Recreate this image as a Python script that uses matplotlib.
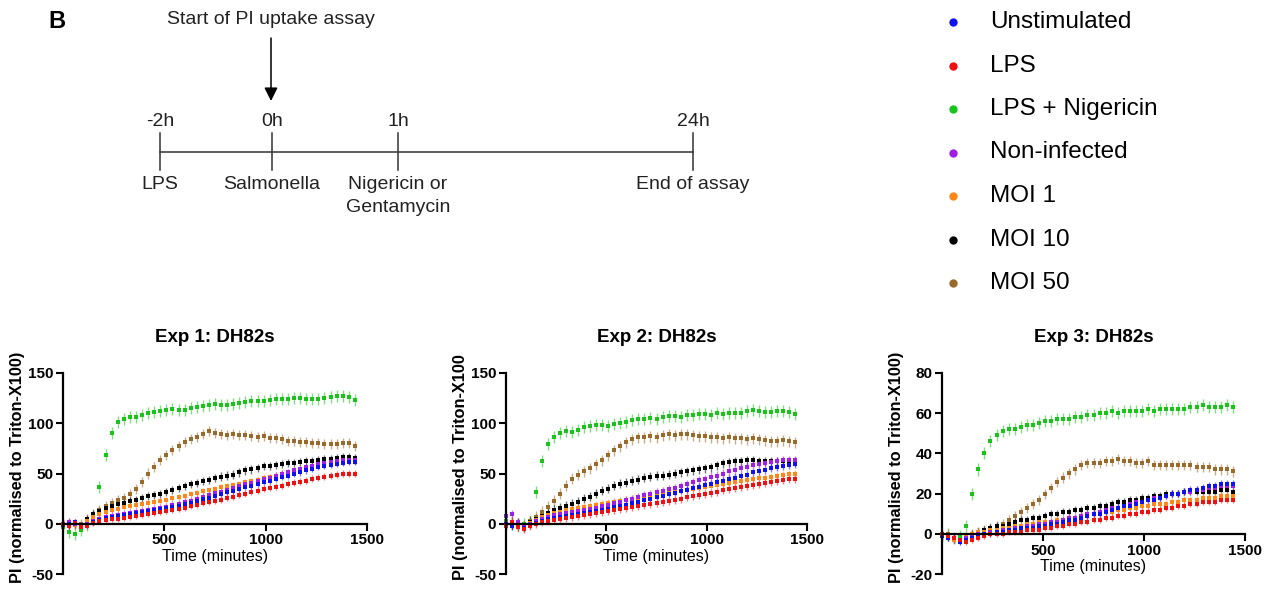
import numpy as np
import matplotlib
matplotlib.use('Agg')
import matplotlib.pyplot as plt
from matplotlib.colors import to_rgba

plt.rcParams['font.family'] = ['Liberation Sans', 'DejaVu Sans']
plt.rcParams['axes.unicode_minus'] = False

# sampling times (minutes)
time_min = np.arange(0, 1441, 30)

series_names = ['Unstimulated', 'LPS', 'LPS + Nigericin', 'Non-infected',
                'MOI 1', 'MOI 10', 'MOI 50']
series_colors = ['#1010f0', '#f01010', '#18c418', '#a01ee6',
                 '#ff8618', '#000000', '#9a6a2a']

# ---- Exp 1 ----
exp1_unstim = [-1, 0, 2, -3, -1, 2, 4, 6, 7, 8,
               9, 10, 11, 12, 13, 14, 15, 16, 17, 18,
               20, 21, 23, 25, 26, 28, 30, 32, 33, 35,
               37, 38, 40, 42, 43, 45, 47, 48, 50, 51,
               53, 54, 56, 57, 58, 59, 60, 61, 61]
exp1_lps = [0, -2, 1, -3, -2, 1, 3, 4, 5, 5,
            6, 7, 8, 9, 10, 11, 12, 13, 14, 15,
            16, 18, 19, 21, 22, 23, 24, 26, 27, 29,
            30, 32, 33, 35, 36, 37, 38, 40, 41, 42,
            43, 45, 46, 47, 48, 49, 50, 50, 50]
exp1_lps_nig = [-3, -8, -10, -6, -1, 5, 37, 68, 90, 101,
                104, 106, 106, 108, 110, 111, 112, 113, 114, 113,
                113, 115, 116, 117, 118, 119, 118, 118, 119, 120,
                121, 122, 122, 122, 123, 124, 124, 124, 125, 125,
                124, 124, 124, 125, 126, 127, 127, 126, 123]
exp1_noninf = [0, 2, 0, -3, 0, 3, 5, 7, 8, 9,
               10, 11, 12, 13, 14, 15, 16, 17, 19, 20,
               22, 23, 25, 27, 29, 31, 32, 34, 36, 38,
               40, 41, 43, 45, 46, 48, 50, 51, 53, 54,
               56, 57, 59, 60, 61, 62, 63, 63, 63]
exp1_moi1 = [0, 0, -1, -3, 3, 7, 10, 12, 14, 15,
             17, 18, 19, 20, 21, 22, 23, 24, 26, 27,
             28, 30, 31, 33, 34, 35, 37, 38, 39, 40,
             42, 43, 44, 46, 47, 48, 50, 51, 52, 54,
             55, 56, 57, 58, 59, 60, 61, 62, 62]
exp1_moi10 = [0, -1, 0, -2, 5, 10, 13, 16, 18, 20,
              21, 23, 24, 26, 28, 29, 30, 32, 34, 36,
              38, 40, 41, 43, 44, 46, 47, 48, 49, 51,
              53, 54, 55, 57, 57, 58, 59, 60, 60, 61,
              62, 62, 63, 64, 64, 65, 66, 66, 65]
exp1_moi50 = [0, 1, 0, 0, 5, 10, 14, 18, 21, 24,
              26, 30, 35, 42, 50, 56, 63, 68, 73, 77,
              81, 84, 86, 89, 92, 90, 89, 88, 89, 88,
              88, 87, 86, 87, 85, 85, 84, 82, 82, 81,
              81, 80, 80, 79, 79, 79, 80, 80, 77]
exp1_sem = [3, 3.5, 6, 3.5, 3, 4, 5]

# ---- Exp 2 ----
exp2_unstim = [0, -2, -1, -4, -1, 1, 3, 5, 6, 7,
               8, 9, 10, 11, 12, 13, 14, 15, 17, 18,
               19, 21, 22, 24, 25, 27, 28, 30, 31, 33,
               34, 36, 37, 39, 40, 42, 43, 45, 46, 48,
               49, 51, 52, 53, 55, 56, 57, 58, 59]
exp2_lps = [-2, 2, -3, -5, -2, 0, 2, 3, 4, 5,
            6, 7, 8, 9, 10, 11, 12, 13, 14, 15,
            16, 17, 18, 19, 20, 21, 22, 23, 24, 25,
            27, 28, 29, 30, 31, 32, 34, 35, 36, 37,
            38, 39, 40, 41, 42, 43, 44, 45, 45]
exp2_lps_nig = [3, 1, -2, 0, 2, 32, 62, 79, 86, 90,
                92, 91, 93, 96, 97, 98, 98, 97, 99, 100,
                101, 103, 104, 104, 105, 104, 106, 107, 107, 106,
                108, 108, 109, 109, 108, 110, 109, 110, 110, 110,
                112, 113, 112, 111, 111, 112, 112, 111, 109]
exp2_noninf = [8, 10, 2, -3, 0, 3, 5, 7, 9, 10,
               11, 12, 13, 14, 15, 16, 18, 19, 21, 22,
               24, 25, 27, 29, 30, 32, 33, 35, 36, 38,
               40, 42, 44, 45, 47, 48, 50, 52, 53, 55,
               56, 58, 59, 60, 61, 62, 63, 63, 63]
exp2_moi1 = [0, 1, -2, -3, 1, 4, 7, 9, 11, 12,
             14, 15, 16, 17, 18, 19, 20, 21, 22, 23,
             24, 25, 26, 27, 28, 29, 30, 31, 32, 33,
             34, 35, 36, 37, 38, 39, 40, 41, 42, 43,
             44, 45, 46, 46, 47, 48, 49, 50, 50]
exp2_moi10 = [0, -2, 1, -2, 2, 5, 8, 11, 14, 16,
              18, 20, 22, 25, 27, 30, 33, 35, 38, 40,
              41, 43, 44, 46, 47, 48, 48, 49, 50, 51,
              52, 53, 54, 55, 56, 58, 60, 61, 62, 62,
              63, 63, 62, 62, 62, 62, 62, 62, 62]
exp2_moi50 = [0, 2, -1, -3, 3, 7, 12, 17, 23, 30,
              38, 45, 49, 52, 55, 59, 63, 68, 73, 77,
              81, 84, 86, 86, 87, 86, 88, 89, 88, 89,
              89, 88, 87, 87, 86, 86, 85, 86, 85, 85,
              84, 85, 84, 83, 82, 82, 83, 82, 81]
exp2_sem = [3.5, 4, 6, 4, 3.5, 4.5, 5.5]

# ---- Exp 3 ----
exp3_unstim = [-1, -2, -2, -4, -3, -2, -1, 0, 0, 1,
               1, 2, 2, 3, 3, 3, 4, 4, 5, 5,
               6, 7, 7, 8, 9, 10, 10, 11, 12, 13,
               14, 14, 15, 16, 17, 17, 18, 19, 20, 20,
               21, 22, 22, 23, 24, 24, 25, 25, 25]
exp3_lps = [0, -1, -2, -3, -4, -3, -2, -1, 0, 0,
            0, 1, 1, 1, 2, 2, 2, 3, 3, 4,
            4, 5, 5, 6, 6, 7, 7, 8, 8, 9,
            9, 10, 10, 11, 11, 12, 12, 13, 13, 14,
            14, 15, 15, 16, 16, 16, 17, 17, 17]
exp3_lps_nig = [-1, 0, -2, -1, 4, 20, 32, 40, 46, 49,
                51, 52, 52, 53, 54, 54, 55, 56, 56, 57,
                57, 57, 58, 58, 59, 59, 60, 60, 61, 60,
                61, 61, 61, 61, 62, 61, 62, 62, 62, 62,
                62, 63, 63, 64, 63, 63, 63, 64, 63]
exp3_noninf = [0, -1, -2, -3, -2, -1, 0, 0, 1, 1,
               2, 2, 3, 3, 4, 4, 5, 5, 6, 6,
               7, 8, 8, 9, 10, 10, 11, 12, 13, 13,
               14, 15, 16, 16, 17, 18, 18, 19, 20, 20,
               21, 21, 22, 22, 23, 23, 24, 24, 24]
exp3_moi1 = [-1, -1, -3, -3, -1, 0, 1, 1, 2, 2,
             3, 3, 4, 4, 5, 5, 6, 6, 6, 7,
             7, 8, 8, 9, 9, 10, 10, 11, 11, 12,
             12, 13, 13, 14, 14, 15, 15, 15, 16, 16,
             17, 17, 17, 18, 18, 18, 19, 19, 19]
exp3_moi10 = [-1, -2, -3, -3, -2, 0, 1, 2, 3, 4,
              4, 5, 6, 7, 7, 8, 8, 9, 10, 10,
              11, 11, 12, 12, 13, 13, 14, 14, 15, 16,
              16, 17, 17, 18, 18, 19, 19, 20, 20, 20,
              21, 21, 21, 21, 21, 21, 22, 22, 21]
exp3_moi50 = [-1, 0, -2, -3, -2, 0, 1, 2, 3, 4,
              5, 7, 9, 11, 13, 15, 17, 20, 23, 26,
              28, 30, 32, 34, 35, 35, 35, 36, 36, 37,
              36, 36, 35, 35, 36, 34, 34, 34, 34, 34,
              34, 34, 33, 33, 33, 32, 32, 32, 31]
exp3_sem = [1.8, 1.8, 3, 1.8, 1.8, 1.8, 2.5]

panels = [
    dict(title='Exp 1: DH82s', ylabel='PI (normalised to Triton-X100)',
         ylim=(-50, 150), yticks=[-50, 0, 50, 100, 150], sem=exp1_sem,
         data=[exp1_unstim, exp1_lps, exp1_lps_nig, exp1_noninf,
               exp1_moi1, exp1_moi10, exp1_moi50]),
    dict(title='Exp 2: DH82s', ylabel='PI (normalised to Triton-X100',
         ylim=(-50, 150), yticks=[-50, 0, 50, 100, 150], sem=exp2_sem,
         data=[exp2_unstim, exp2_lps, exp2_lps_nig, exp2_noninf,
               exp2_moi1, exp2_moi10, exp2_moi50]),
    dict(title='Exp 3: DH82s', ylabel='PI (normalised to Triton-X100)',
         ylim=(-20, 80), yticks=[-20, 0, 20, 40, 60, 80], sem=exp3_sem,
         data=[exp3_unstim, exp3_lps, exp3_lps_nig, exp3_noninf,
               exp3_moi1, exp3_moi10, exp3_moi50]),
]

draw_order = [2, 6, 5, 4, 3, 0, 1]

W, H = 1271, 596
fig = plt.figure(figsize=(W / 100, H / 100), dpi=100)

# axes boxes in pixels: left, right, top, bottom
boxes = [(63, 367, 373, 574), (506, 807, 373, 574), (942, 1245, 373, 574)]

for p, (l, r, t, b) in zip(panels, boxes):
    ax = fig.add_axes([l / W, (H - b) / H, (r - l) / W, (b - t) / H])
    for i in draw_order:
        c = series_colors[i]
        ax.errorbar(time_min, p['data'][i], yerr=p['sem'][i], fmt='s',
                    ms=3.2, mew=0, color=c, ecolor=to_rgba(c, 0.55),
                    elinewidth=1.0, capsize=2.6, capthick=1.0, clip_on=False)
    ax.set_xlim(0, 1500)
    ax.set_ylim(*p['ylim'])
    ax.set_xticks([500, 1000, 1500])
    ax.set_yticks(p['yticks'])
    ax.spines['top'].set_visible(False)
    ax.spines['right'].set_visible(False)
    ax.spines['bottom'].set_position(('data', 0))
    ax.spines['left'].set_linewidth(1.6)
    ax.spines['bottom'].set_linewidth(1.6)
    ax.tick_params(direction='out', length=5, width=1.5, labelsize=11, pad=2)
    for lab in ax.get_xticklabels() + ax.get_yticklabels():
        lab.set_fontweight('bold')
    ax.set_xlabel('Time (minutes)', fontsize=11.5, labelpad=1)
    ax.set_ylabel(p['ylabel'], fontsize=11.8, fontweight='bold')
    ax.yaxis.set_label_coords(-0.125, 0.53)
    ax.set_title(p['title'], fontsize=13.5, fontweight='bold', pad=22)

# overlay for schematic timeline + legend (pixel coords)
ov = fig.add_axes([0, 0, 1, 1])
ov.set_xlim(0, W)
ov.set_ylim(H, 0)
ov.axis('off')
ov.patch.set_visible(False)

narrow = ['Liberation Sans Narrow', 'Liberation Sans', 'DejaVu Sans']
ov.text(57, 22, 'B', fontsize=17, fontweight='bold', ha='center', va='center')
ov.text(271, 20, 'Start of PI uptake assay', fontsize=14, family=narrow,
        ha='center', va='center', color='#222222')
ov.annotate('', xy=(271, 101), xytext=(271, 38),
            arrowprops=dict(arrowstyle='-|>', color='black', lw=1.1,
                            mutation_scale=20, shrinkA=0, shrinkB=0))

tl_x = [160, 272, 398, 693]
tl_top = ['-2h', '0h', '1h', '24h']
tl_bottom = ['LPS', 'Salmonella', 'Nigericin or\nGentamycin', 'End of assay']
ov.plot([tl_x[0], tl_x[-1]], [152, 152], color='#333333', lw=1.1)
for x, top, bot in zip(tl_x, tl_top, tl_bottom):
    ov.plot([x, x], [133, 170], color='#333333', lw=1.1)
    ov.text(x, 122, top, fontsize=14, family=narrow, ha='center', va='center',
            color='#222222')
    ov.text(x, 176, bot, fontsize=14, family=narrow, ha='center', va='top',
            color='#222222', linespacing=1.45)

# legend
for i, (name, c) in enumerate(zip(series_names, series_colors)):
    y = 22 + 43.5 * i
    ov.plot([953], [y], 'o', ms=6, color=c, mew=0)
    ov.text(990, y, name, fontsize=17.5, ha='left', va='center')

fig.savefig('out.png', dpi=100)
